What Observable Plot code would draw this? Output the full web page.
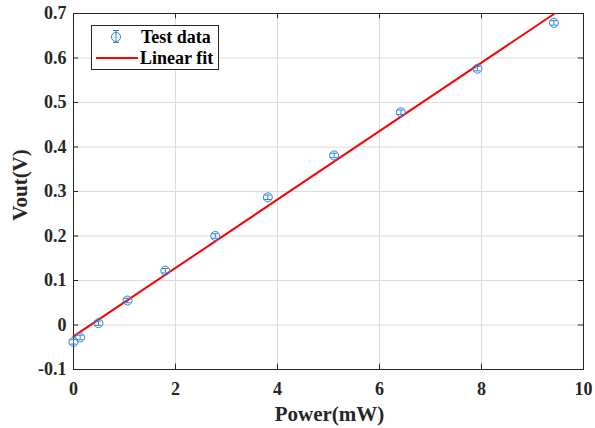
<!DOCTYPE html>
<html>
<head>
<meta charset="utf-8">
<script src="https://cdn.jsdelivr.net/npm/d3@7"></script>
<script src="https://cdn.jsdelivr.net/npm/@observablehq/plot@0.6"></script>
<style>
  html, body { margin: 0; padding: 0; background: #fff; }
  #chart { width: 595px; height: 428px; }
</style>
</head>
<body>
<div id="chart"></div>
<script>
// Test data
const powerMW = [0, 0.13, 0.49, 1.06, 1.80, 2.78, 3.81, 5.11, 6.42, 7.92, 9.42];
const voutV   = [-0.038, -0.028, 0.004, 0.055, 0.122, 0.200, 0.287, 0.381, 0.478, 0.576, 0.679];
const errV    = [0.005, 0.005, 0.005, 0.005, 0.005, 0.005, 0.005, 0.005, 0.005, 0.005, 0.005];
// Linear fit
const fitSlope = 0.0769;
const fitIntercept = -0.0256;
const fitX = [0, 9.42];
// Ticks
const xTicks = [0, 2, 4, 6, 8, 10];
const yTicks = [-0.1, 0, 0.1, 0.2, 0.3, 0.4, 0.5, 0.6, 0.7];

const pts = powerMW.map((x, i) => ({x, y: voutV[i], e: errV[i]}));
const fit = fitX.map(x => ({x, y: fitSlope * x + fitIntercept}));

const blue = "#2f86d1";
const red = "#ff0000";
const font = "'Liberation Serif', 'Times New Roman', serif";
const capHalf = 0.07;
const tickLenX = 0.012; // in y units for x ticks
const tickLenY = 0.1;   // in x units for y ticks
const yFmt = d => (Math.abs(d) < 1e-9 ? "0" : String(+d.toFixed(1)));

const plot = Plot.plot({
  width: 595,
  height: 428,
  marginLeft: 73,
  marginRight: 12,
  marginTop: 13,
  marginBottom: 59,
  style: {fontFamily: font, fontSize: "17px", fontWeight: "bold", color: "#262626", background: "white"},
  x: {domain: [0, 10], label: null},
  y: {domain: [-0.1, 0.7], label: null},
  marks: [
    Plot.gridX(xTicks, {stroke: "#dcdcdc", strokeOpacity: 1, strokeWidth: 1}),
    Plot.gridY(yTicks, {stroke: "#dcdcdc", strokeOpacity: 1, strokeWidth: 1}),
    // inward ticks (bottom/top)
    Plot.ruleX(xTicks, {y1: -0.1, y2: -0.1 + tickLenX, stroke: "#262626"}),
    Plot.ruleX(xTicks, {y1: 0.7, y2: 0.7 - tickLenX, stroke: "#262626"}),
    // inward ticks (left/right)
    Plot.ruleY(yTicks, {x1: 0, x2: tickLenY, stroke: "#262626"}),
    Plot.ruleY(yTicks, {x1: 10, x2: 10 - tickLenY, stroke: "#262626"}),
    Plot.frame({stroke: "#262626", strokeWidth: 1}),
    Plot.line(fit, {x: "x", y: "y", stroke: red, strokeWidth: 2}),
    // error bars
    Plot.ruleX(pts, {x: "x", y1: d => d.y - d.e, y2: d => d.y + d.e, stroke: blue, strokeWidth: 1}),
    Plot.ruleY(pts, {y: d => d.y - d.e, x1: d => d.x - capHalf, x2: d => d.x + capHalf, stroke: blue, strokeWidth: 1}),
    Plot.ruleY(pts, {y: d => d.y + d.e, x1: d => d.x - capHalf, x2: d => d.x + capHalf, stroke: blue, strokeWidth: 1}),
    Plot.dot(pts, {x: "x", y: "y", r: 4.5, stroke: blue, strokeWidth: 1, fill: "none"}),
    Plot.axisX({ticks: xTicks, tickSize: 0, tickPadding: 13, fontSize: 18, fontWeight: "bold", fill: "#262626", label: null}),
    Plot.axisY({ticks: yTicks, tickSize: 0, tickPadding: 7, fontSize: 18, fontWeight: "bold", fill: "#262626", label: null,
      tickFormat: yFmt}),
    Plot.text(["Power(mW)"], {frameAnchor: "bottom", textAnchor: "middle", lineAnchor: "middle", dx: 1, dy: 44.5,
      fontSize: 21, fontWeight: "bold", fill: "#262626"}),
    Plot.text(["Vout(V)"], {frameAnchor: "left", textAnchor: "middle", lineAnchor: "middle", dx: -53, dy: -6.5,
      rotate: -90, fontSize: 21, fontWeight: "bold", fill: "#262626"})
  ]
});

document.getElementById("chart").appendChild(plot);

// Legend (drawn into the same SVG)
const svg = d3.select(plot);
const lg = svg.append("g").attr("font-family", font).attr("font-weight", "bold")
  .attr("font-size", 18).attr("fill", "#000").attr("text-anchor", "start");
lg.append("rect").attr("x", 91.5).attr("y", 25.5).attr("width", 127).attr("height", 44)
  .attr("fill", "white").attr("stroke", "#262626").attr("stroke-width", 1);
// errorbar icon
lg.append("line").attr("x1", 116).attr("x2", 116).attr("y1", 30).attr("y2", 43).attr("stroke", blue);
lg.append("line").attr("x1", 113).attr("x2", 119).attr("y1", 30.5).attr("y2", 30.5).attr("stroke", blue);
lg.append("line").attr("x1", 113).attr("x2", 119).attr("y1", 42.5).attr("y2", 42.5).attr("stroke", blue);
lg.append("circle").attr("cx", 116).attr("cy", 37).attr("r", 4.5).attr("fill", "none").attr("stroke", blue);
lg.append("text").attr("x", 141).attr("y", 43).text("Test data");
// line icon
lg.append("line").attr("x1", 96).attr("x2", 138).attr("y1", 58).attr("y2", 58).attr("stroke", red).attr("stroke-width", 2);
lg.append("text").attr("x", 140).attr("y", 64).text("Linear fit");
</script>
</body>
</html>
